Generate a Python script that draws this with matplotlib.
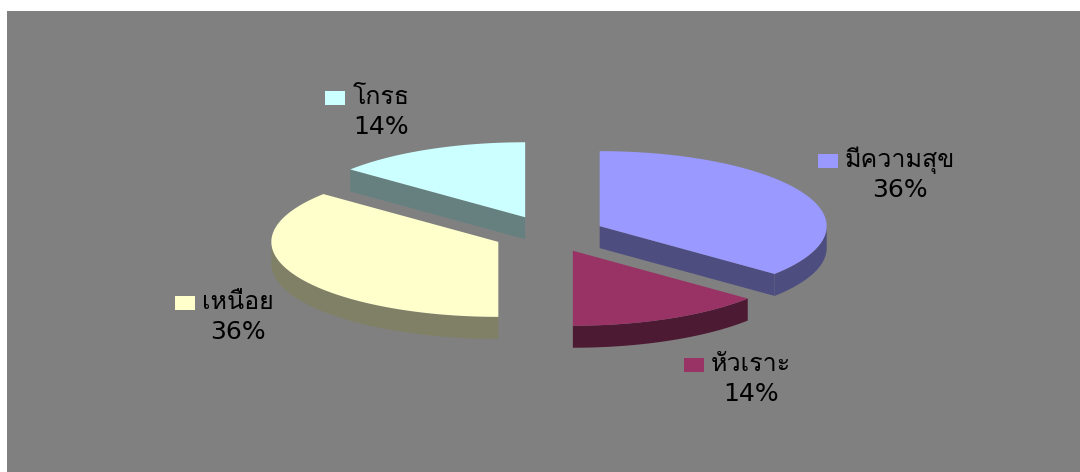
import numpy as np
import matplotlib
matplotlib.use("Agg")
import matplotlib.pyplot as plt
from matplotlib.patches import Polygon, Rectangle
from matplotlib.colors import to_rgb

# slice data, clockwise from 12 o'clock
labels = ['มีความสุข', 'หัวเราะ', 'เหนือย', 'โกรธ']
values = [36, 14, 36, 14]
colors = ['#9999FF', '#993366', '#FFFFCC', '#CCFFFF']

# where each data label sits (centre of the name line, in pixels)
label_pos = [(900, 160), (751, 364), (238, 302), (381, 97)]

W, H = 1080, 472
cx, cy = 549, 234          # pie centre
rx, ry = 227, 75           # ellipse radii of the top face
depth = 22                 # thickness of the pie
explode = 56               # how far each slice is pulled out

label_font = ['DejaVu Sans', 'Loma', 'Noto Sans Thai', 'Sarabun']

fig = plt.figure(figsize=(W / 100, H / 100), dpi=100, facecolor='white')
ax = fig.add_axes([7 / W, 0, (W - 7) / W, (H - 11) / H])
ax.set_facecolor('#808080')
ax.set_xlim(7, W)
ax.set_ylim(H, 11)
ax.set_xticks([])
ax.set_yticks([])
for s in ax.spines.values():
    s.set_visible(False)


def shade(c, f=0.5):
    r, g, b = to_rgb(c)
    return (r * f, g * f, b * f)


def arc(x0, y0, t1, t2, n=120):
    t = np.radians(np.linspace(t1, t2, n))
    return np.column_stack([x0 + rx * np.cos(t), y0 - ry * np.sin(t)])


total = float(sum(values))
fracs = np.array(values) / total
starts = 90 - 360 * np.concatenate([[0], np.cumsum(fracs)[:-1]])
ends = starts - 360 * fracs

slices = []
for i in range(len(values)):
    t1, t2 = starts[i], ends[i]
    mid = np.radians((t1 + t2) / 2)
    x0 = cx + explode * np.cos(mid)
    y0 = cy - explode * (ry / rx) * np.sin(mid)
    slices.append((y0, i, x0, t1, t2))

# paint back slices first
for y0, i, x0, t1, t2 in sorted(slices):
    side = shade(colors[i])
    # front part of the rim
    for k in (-1, 0, 1):
        a = max(t2, -180 + 360 * k)
        b = min(t1, 0 + 360 * k)
        if b > a:
            top = arc(x0, y0, a, b)
            bot = top[::-1] + [0, depth]
            ax.add_patch(Polygon(np.vstack([top, bot]), closed=True,
                                 facecolor=side, edgecolor='none'))
    # radial cut faces that turn toward the viewer
    for t, visible in ((t1, np.cos(np.radians(t1)) < -1e-6),
                       (t2, np.cos(np.radians(t2)) > 1e-6)):
        if visible:
            ex = x0 + rx * np.cos(np.radians(t))
            ey = y0 - ry * np.sin(np.radians(t))
            pts = [(x0, y0), (ex, ey), (ex, ey + depth), (x0, y0 + depth)]
            ax.add_patch(Polygon(pts, closed=True, facecolor=side,
                                 edgecolor='none'))
    # top face
    pts = np.vstack([[x0, y0], arc(x0, y0, t1, t2), [x0, y0]])
    ax.add_patch(Polygon(pts, closed=True, facecolor=colors[i],
                         edgecolor='none'))

# data labels: legend key + name, percentage underneath
for i, (lx, ly) in enumerate(label_pos):
    ax.text(lx, ly, labels[i], ha='center', va='center', fontsize=18,
            family=label_font, color='black')
    ax.text(lx, ly + 30, f'{values[i]}%', ha='center', va='center',
            fontsize=18, family=label_font, color='black')

fig.canvas.draw()
rend = fig.canvas.get_renderer()
inv = ax.transData.inverted()
for t in list(ax.texts)[0::2]:
    bb = t.get_window_extent(rend)
    left = inv.transform((bb.x0, 0))[0]
    lx, ly = t.get_position()
    idx = labels.index(t.get_text())
    ax.add_patch(Rectangle((left - 27, ly - 6), 20, 14,
                           facecolor=colors[idx], edgecolor='none'))

fig.savefig('out.png', dpi=100, facecolor=fig.get_facecolor())
